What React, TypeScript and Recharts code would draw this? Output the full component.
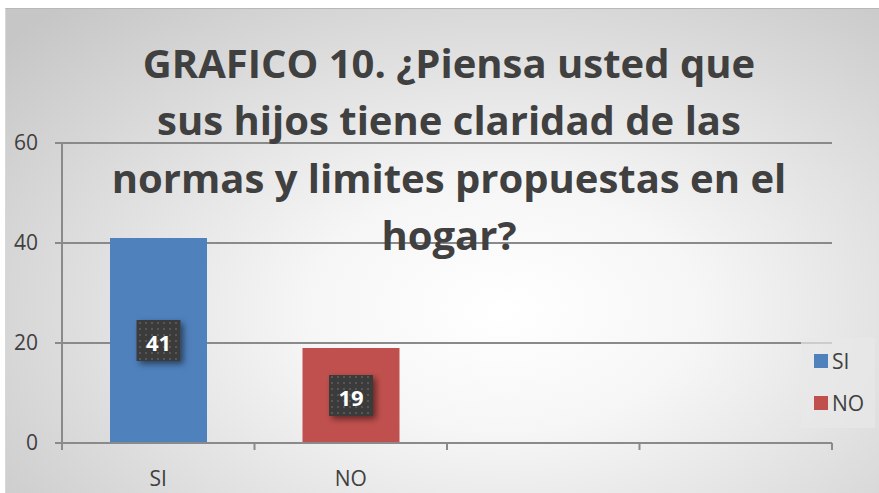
import { BarChart, Bar, XAxis, YAxis, CartesianGrid, LabelList } from "recharts";

// datos del grafico
const categories = ["SI", "NO", "", ""];
const siValues = [41, null, null, null];
const noValues = [null, 19, null, null];
const yTicks = [0, 20, 40, 60];
const seriesNames = ["SI", "NO"];
const titleLines = [
  "GRAFICO 10. ¿Piensa usted que",
  "sus hijos tiene claridad de las",
  "normas y limites propuestas en el",
  "hogar?",
];

const COLORS = ["#4f81bd", "#c0504d"];
const AXIS = "#8a8a8a";
const TEXT = "#404040";
const FONT = "'Open Sans', sans-serif";

const W = 874;
const H = 485;
const PLOT_W = 770;
const BAND = PLOT_W / categories.length;

const data = categories.map((c, i) => ({
  name: c,
  SI: siValues[i],
  NO: noValues[i],
}));

const XTick = (props: any) => {
  const { x, y, payload, index } = props;
  const left = x - BAND / 2;
  return (
    <g>
      <line x1={left} y1={y} x2={left} y2={y + 7} stroke={AXIS} strokeWidth={2} />
      {index === categories.length - 1 && (
        <line x1={x + BAND / 2} y1={y} x2={x + BAND / 2} y2={y + 7} stroke={AXIS} strokeWidth={2} />
      )}
      <text
        x={x}
        y={y + 35}
        textAnchor="middle"
        dominantBaseline="central"
        fill={TEXT}
        fontSize={21}
        fontFamily={FONT}
      >
        {payload.value}
      </text>
    </g>
  );
};

const renderLabel = (props: any) => {
  const { x, y, width, height, value } = props;
  if (!value) return null;
  const cx = x + width / 2;
  const cy = y + height / 2;
  return (
    <g>
      <rect x={cx - 22} y={cy - 20.5} width={44} height={41} fill="url(#dots)" filter="url(#shadow)" />
      <text
        x={cx}
        y={cy + 1}
        fill="#ffffff"
        textAnchor="middle"
        dominantBaseline="central"
        fontWeight={700}
        fontSize={22}
        fontFamily={FONT}
      >
        {value}
      </text>
    </g>
  );
};

const App = () => {
  return (
    <div
      style={{
        position: "absolute",
        left: 5,
        top: 8,
        width: W,
        height: H,
        borderTop: "1px solid #b8b8b8",
        borderLeft: "1px solid #d8d8d8",
        boxSizing: "border-box",
        background:
          "radial-gradient(ellipse 75% 85% at 57% 62%, #ffffff 0%, #f6f6f6 30%, #dedede 65%, #c6c6c6 100%)",
        fontFamily: FONT,
      }}
    >
      <BarChart
        width={W}
        height={H}
        data={data}
        margin={{ top: 135, right: 47, left: 0, bottom: 0 }}
        barSize={97}
        style={{ position: "absolute", left: -1, top: -1 }}
      >
        <defs>
          <pattern id="dots" width="6" height="6" patternUnits="userSpaceOnUse">
            <rect width="6" height="6" fill="#3b3b3b" />
            <rect x="2" y="2" width="2" height="2" fill="#565656" />
          </pattern>
          <filter id="shadow" x="-30%" y="-30%" width="170%" height="170%">
            <feDropShadow dx="3" dy="3" stdDeviation="3" floodColor="#000" floodOpacity="0.5" />
          </filter>
        </defs>
        <CartesianGrid vertical={false} stroke={AXIS} strokeWidth={2} />
        <XAxis
          dataKey="name"
          height={50}
          axisLine={{ stroke: AXIS, strokeWidth: 2 }}
          tickLine={false}
          tickSize={0}
          tickMargin={0}
          tick={<XTick />}
          interval={0}
        />
        <YAxis
          width={57}
          domain={[0, 60]}
          ticks={yTicks}
          axisLine={{ stroke: AXIS, strokeWidth: 2 }}
          tickLine={{ stroke: AXIS, strokeWidth: 2 }}
          tickSize={7}
          tickMargin={17}
          tick={{ fill: TEXT, fontSize: 21, fontFamily: FONT }}
        />
        {seriesNames.map((s, i) => (
          <Bar key={s} dataKey={s} stackId="a" fill={COLORS[i]} isAnimationActive={false}>
            <LabelList dataKey={s} content={renderLabel} />
          </Bar>
        ))}
      </BarChart>

      {/* titulo */}
      <div
        style={{
          position: "absolute",
          left: 73,
          top: 25,
          width: 740,
          textAlign: "center",
          color: TEXT,
          fontWeight: 700,
          fontSize: 40,
          lineHeight: "57.3px",
          whiteSpace: "nowrap",
          pointerEvents: "none",
        }}
      >
        {titleLines.map((t) => (
          <div key={t}>{t}</div>
        ))}
      </div>

      {/* leyenda */}
      <div
        style={{
          position: "absolute",
          left: 795,
          top: 329,
          width: 74,
          height: 90,
          background: "rgba(232,232,232,0.7)",
        }}
      >
        {seriesNames.map((s, i) => (
          <div
            key={s}
            style={{
              position: "absolute",
              left: 13,
              top: 12 + i * 42,
              display: "flex",
              alignItems: "center",
              height: 22,
              fontSize: 21,
              color: TEXT,
            }}
          >
            <span style={{ width: 14, height: 14, background: COLORS[i], marginRight: 4 }} />
            {s}
          </div>
        ))}
      </div>
    </div>
  );
};

export default App;
